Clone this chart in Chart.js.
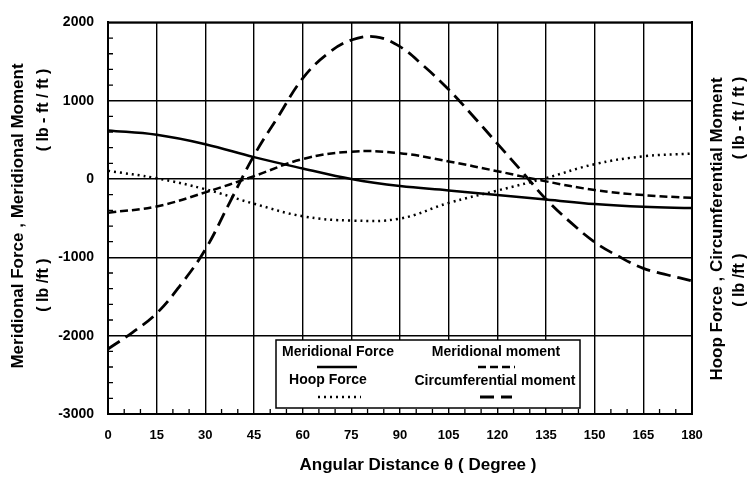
<!DOCTYPE html>
<html>
<head>
<meta charset="utf-8">
<script src="https://cdn.jsdelivr.net/npm/chart.js@4.4.1/dist/chart.umd.min.js"></script>
<style>
  html, body { margin: 0; padding: 0; background: #fff; }
  canvas { display: block; }
</style>
</head>
<body>
<canvas id="chart" width="756" height="479"></canvas>
<script>
// angles (degrees) for the 15 degree readings
const angles = [0, 15, 30, 45, 60, 75, 90, 105, 120, 135, 150, 165, 180];
// finer angles for the circumferential moment curve
const anglesFine = [0, 7.5, 15, 22.5, 30, 37.5, 45, 52.5, 60, 67.5, 75, 82.5, 90,
    97.5, 105, 112.5, 120, 127.5, 135, 142.5, 150, 157.5, 165, 172.5, 180];

const meridionalForce = [620, 565, 445, 280, 135, 0, -90, -145, -205, -260, -320, -355, -370];
const meridionalMoment = [-430, -350, -170, 37, 255, 350, 330, 225, 100, -30, -140, -205, -240];
const hoopForce = [105, 10, -130, -315, -475, -530, -505, -305, -147, 12, 190, 290, 325];
const circumferentialMoment = [-2170, -1960, -1715, -1345, -900, -300, 300, 800, 1285, 1594, 1775, 1815, 1690,
    1436, 1143, 805, 453, 100, -257, -550, -805, -990, -1140, -1225, -1300];

const xTicks = [0, 15, 30, 45, 60, 75, 90, 105, 120, 135, 150, 165, 180];
const yTicks = [-3000, -2000, -1000, 0, 1000, 2000];

const FONT = '"Liberation Sans", Arial, Helvetica, sans-serif';

function toPoints(xs, ys) {
    return xs.map((x, i) => ({ x: x, y: ys[i] }));
}

// inward minor ticks, frame, legend box and axis titles
const decor = {
    id: 'decor',
    afterDraw(chart) {
        const { ctx, chartArea: a, scales } = chart;
        const xs = scales.x, ys = scales.y;
        ctx.save();
        ctx.strokeStyle = '#000';
        ctx.fillStyle = '#000';

        // legend box
        ctx.fillStyle = '#fff';
        ctx.fillRect(276, 340, 304, 68);
        ctx.lineWidth = 1.5;
        ctx.strokeRect(276, 340, 304, 68);
        ctx.fillStyle = '#000';

        const items = [
            { text: [338, 352], line: [317, 357, 367] },
            { text: [496, 352], line: [478, 515, 367] },
            { text: [328, 380], line: [318, 361, 397] },
            { text: [495, 381], line: [480, 512, 397] }
        ];
        ctx.font = 'bold 14px ' + FONT;
        ctx.textAlign = 'center';
        ctx.textBaseline = 'middle';
        chart.data.datasets.forEach((ds, i) => {
            const it = items[i];
            ctx.fillText(ds.label, it.text[0], it.text[1]);
            ctx.save();
            ctx.lineWidth = ds.borderWidth;
            ctx.setLineDash(ds.borderDash || []);
            ctx.beginPath();
            ctx.moveTo(it.line[0], it.line[2]);
            ctx.lineTo(it.line[1], it.line[2]);
            ctx.stroke();
            ctx.restore();
        });

        // minor ticks
        ctx.lineWidth = 1.3;
        ctx.beginPath();
        for (let v = -3000; v <= 2000; v += 200) {
            if (v % 1000 === 0) continue;
            const y = ys.getPixelForValue(v);
            ctx.moveTo(a.left, y);
            ctx.lineTo(a.left + 5, y);
        }
        for (let d = 0; d <= 180; d += 5) {
            if (d % 15 === 0) continue;
            const x = xs.getPixelForValue(d);
            ctx.moveTo(x, a.bottom);
            ctx.lineTo(x, a.bottom - 5);
        }
        ctx.stroke();

        // frame
        ctx.lineWidth = 2;
        ctx.strokeRect(a.left, a.top, a.right - a.left, a.bottom - a.top);

        // axis titles
        ctx.font = 'bold 17px ' + FONT;
        ctx.textAlign = 'center';
        ctx.textBaseline = 'middle';
        ctx.fillText('Angular Distance \u03b8 ( Degree )', 418, 465);

        const vtext = (txt, x, y, font) => {
            ctx.save();
            ctx.font = font;
            ctx.translate(x, y);
            ctx.rotate(-Math.PI / 2);
            ctx.fillText(txt, 0, 0);
            ctx.restore();
        };
        const big = 'bold 17px ' + FONT;
        const small = 'bold 16px ' + FONT;
        vtext('Meridional Force , Meridional Moment', 18, 216, big);
        vtext('( lb - ft / ft )', 44, 110, small);
        vtext('( lb /ft )', 44, 285, small);

        vtext('Hoop Force , Circumferential Moment', 717, 229, big);
        vtext('( lb - ft / ft )', 740, 118, small);
        vtext('( lb /ft )', 740, 280, small);

        ctx.restore();
    }
};

Chart.defaults.font.family = FONT;
Chart.defaults.color = '#000';

new Chart(document.getElementById('chart').getContext('2d'), {
    type: 'line',
    data: {
        datasets: [{
            label: 'Meridional Force',
            data: toPoints(angles, meridionalForce),
            borderColor: '#000',
            borderWidth: 2.5,
            borderDash: []
        }, {
            label: 'Meridional moment',
            data: toPoints(angles, meridionalMoment),
            borderColor: '#000',
            borderWidth: 2.5,
            borderDash: [8, 4]
        }, {
            label: 'Hoop Force',
            data: toPoints(angles, hoopForce),
            borderColor: '#000',
            borderWidth: 2.5,
            borderDash: [2, 4]
        }, {
            label: 'Circumferential moment',
            data: toPoints(anglesFine, circumferentialMoment),
            borderColor: '#000',
            borderWidth: 2.8,
            borderDash: [14, 7]
        }]
    },
    options: {
        responsive: false,
        animation: false,
        devicePixelRatio: 1,
        layout: { padding: { left: 0, right: 0, top: 10, bottom: 0 } },
        elements: {
            point: { radius: 0 },
            line: { tension: 0.4, fill: false }
        },
        plugins: {
            legend: { display: false },
            tooltip: { enabled: false }
        },
        scales: {
            x: {
                type: 'linear',
                min: 0,
                max: 180,
                afterBuildTicks: (scale) => { scale.ticks = xTicks.map(v => ({ value: v })); },
                afterFit: (scale) => { scale.height = 65; },
                ticks: {
                    font: { size: 13, weight: 'bold' },
                    padding: 14,
                    maxRotation: 0,
                    callback: (v) => String(v)
                },
                grid: { color: '#000', lineWidth: 1.4, drawTicks: false },
                border: { color: '#000', width: 2 }
            },
            y: {
                position: 'left',
                min: -3000,
                max: 2000,
                afterBuildTicks: (scale) => { scale.ticks = yTicks.map(v => ({ value: v })); },
                afterFit: (scale) => { scale.width = 108; },
                ticks: {
                    font: { size: 14, weight: 'bold' },
                    padding: 14,
                    callback: (v) => String(v)
                },
                grid: { color: '#000', lineWidth: 1.4, drawTicks: false },
                border: { color: '#000', width: 2 }
            },
            y2: {
                position: 'right',
                min: -3000,
                max: 2000,
                afterFit: (scale) => { scale.width = 64; },
                ticks: { display: false },
                grid: { drawOnChartArea: false, drawTicks: false },
                border: { color: '#000', width: 2 }
            }
        }
    },
    plugins: [decor]
});
</script>
</body>
</html>
